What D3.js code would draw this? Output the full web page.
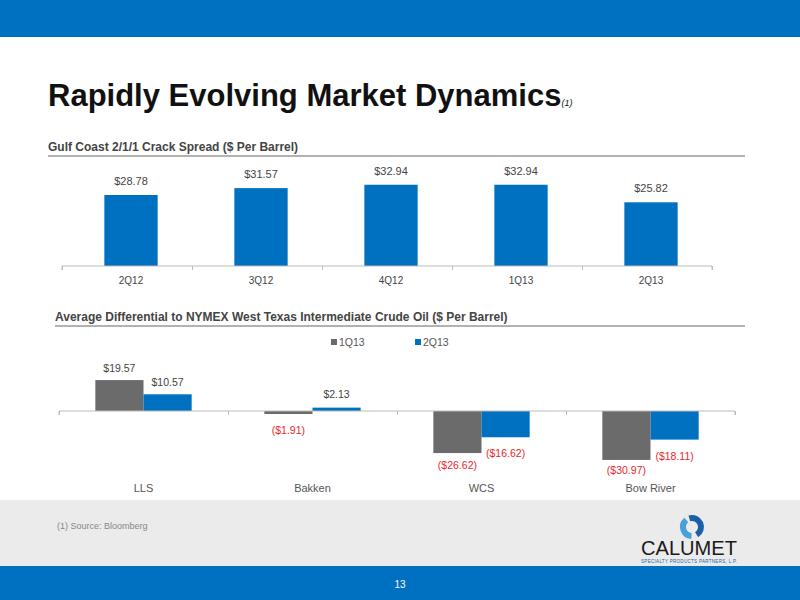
<!DOCTYPE html><html><head><meta charset="utf-8"><script src="https://cdn.jsdelivr.net/npm/d3@7"></script>
<style>body{margin:0}svg{font-family:"Liberation Sans",Arial,sans-serif}</style></head><body><svg id="c" width="800" height="600"></svg>
<script>
const crackCats=["2Q12","3Q12","4Q12","1Q13","2Q13"];
const crackVals=[28.78,31.57,32.94,32.94,25.82];
const diffCats=["LLS","Bakken","WCS","Bow River"];
const series=["1Q13","2Q13"];
const diff1Q13=[19.57,-1.91,-26.62,-30.97];
const diff2Q13=[10.57,2.13,-16.62,-18.11];
const BLUE="#0070c0",GRAY="#6b6b6b",RED="#e8262b";
const svg=d3.select("#c");
svg.append("rect").attr("width",800).attr("height",600).attr("fill","#fff");
svg.append("rect").attr("width",800).attr("height",37).attr("fill",BLUE);
svg.append("rect").attr("y",500).attr("width",800).attr("height",66).attr("fill","#ebebeb");
svg.append("rect").attr("y",566).attr("width",800).attr("height",34).attr("fill",BLUE);
svg.append("text").attr("x",400).attr("y",588).attr("text-anchor","middle").attr("fill","#fff").attr("font-size",10).text("13");
const t=svg.append("text").attr("x",48).attr("y",106).attr("font-size",31).attr("font-weight","bold").attr("fill","#111");
t.append("tspan").text("Rapidly Evolving Market Dynamics");
t.append("tspan").attr("font-size",9).attr("font-style","italic").attr("font-weight","normal").text("(1)");
function header(x,y,txt){svg.append("text").attr("x",x).attr("y",y).attr("font-size",12).attr("font-weight","bold").attr("fill","#444").text(txt);
svg.append("line").attr("x1",x).attr("x2",745).attr("y1",y+5).attr("y2",y+5).attr("stroke","#999").attr("stroke-width",1.5);}
header(48,151,"Gulf Coast 2/1/1 Crack Spread ($ Per Barrel)");
header(55,321,"Average Differential to NYMEX West Texas Intermediate Crude Oil ($ Per Barrel)");
const x1=d3.scaleBand().domain(crackCats).range([66,716]).paddingInner(0.59).paddingOuter(0.295);
const y1=d3.scaleLinear().domain([0,35]).range([266,266-35*2.467]);
const g1=svg.append("g");
g1.selectAll("rect").data(crackVals).join("rect").attr("x",(d,i)=>x1(crackCats[i])).attr("width",x1.bandwidth()).attr("y",d=>y1(d)).attr("height",d=>y1(0)-y1(d)).attr("fill",BLUE);
g1.selectAll(".l").data(crackVals).join("text").attr("x",(d,i)=>x1(crackCats[i])+x1.bandwidth()/2).attr("y",d=>y1(d)-10).attr("text-anchor","middle").attr("font-size",11).attr("fill","#444").text(d=>"$"+d.toFixed(2));
const ax1=svg.append("g").attr("transform","translate(0,266)").call(d3.axisBottom(d3.scaleLinear().domain([0,5]).range([62,712])).ticks(5).tickSize(4).tickFormat(""));
ax1.selectAll("line,path").attr("stroke","#bbb");
ax1.select("path").attr("d","M62,4V0H712V4");
crackCats.forEach(c=>svg.append("text").attr("x",x1(c)+x1.bandwidth()/2).attr("y",284).attr("text-anchor","middle").attr("font-size",10).attr("fill","#444").text(c));
const x2=d3.scaleBand().domain(diffCats).range([59,735]).paddingInner(0.43).paddingOuter(0.215);
const xs=d3.scaleBand().domain(series).range([0,x2.bandwidth()]);
const y2=d3.scaleLinear().domain([-35,25]).range([411+35*1.58,411-25*1.58]);
const data=diffCats.map((c,i)=>[{c,s:"1Q13",v:diff1Q13[i]},{c,s:"2Q13",v:diff2Q13[i]}]).flat();
const col={"1Q13":GRAY,"2Q13":BLUE};
svg.append("g").selectAll("rect").data(data).join("rect").attr("x",d=>x2(d.c)+xs(d.s)).attr("width",xs.bandwidth()).attr("y",d=>y2(Math.max(0,d.v))).attr("height",d=>Math.abs(y2(d.v)-y2(0))).attr("fill",d=>col[d.s]);
const ax2=svg.append("g").attr("transform","translate(0,411)").call(d3.axisBottom(d3.scaleLinear().domain([0,4]).range([59,735])).ticks(4).tickSize(4).tickFormat(""));
ax2.selectAll("line,path").attr("stroke","#bbb");ax2.select("path").attr("d","M59,4V0H735V4");
const fmt=v=>v<0?"($"+Math.abs(v).toFixed(2)+")":"$"+v.toFixed(2);
const offs={"LLS1Q13":-8,"LLS2Q13":-8,"Bakken1Q13":20,"Bakken2Q13":-10,"WCS1Q13":16,"WCS2Q13":20,"Bow River1Q13":14,"Bow River2Q13":20};
svg.append("g").selectAll("text").data(data).join("text").attr("x",d=>x2(d.c)+xs(d.s)+xs.bandwidth()/2).attr("y",d=>y2(d.v)+offs[d.c+d.s]).attr("text-anchor","middle").attr("font-size",10.5).attr("fill",d=>d.v<0?RED:"#444").text(d=>fmt(d.v));
diffCats.forEach(c=>svg.append("text").attr("x",x2(c)+x2.bandwidth()/2).attr("y",492).attr("text-anchor","middle").attr("font-size",11).attr("fill","#555").text(c));
series.forEach((s,i)=>{const lx=331+i*84;svg.append("rect").attr("x",lx).attr("y",339).attr("width",6).attr("height",6).attr("fill",col[s]);
svg.append("text").attr("x",lx+8).attr("y",346).attr("font-size",10.5).attr("fill","#555").text(s);});
svg.append("text").attr("x",57).attr("y",529).attr("font-size",9).attr("fill","#888").text("(1)  Source:  Bloomberg");
const lg=svg.append("g").attr("transform","translate(692,527)");
lg.append("path").attr("d",d3.arc()({innerRadius:6,outerRadius:12,startAngle:-0.3,endAngle:2.6})).attr("fill","#1a5fa8");
lg.append("path").attr("d",d3.arc()({innerRadius:6,outerRadius:12,startAngle:3.2,endAngle:5.6})).attr("fill","#4aa0d8");
svg.append("text").attr("x",689).attr("y",555).attr("text-anchor","middle").attr("font-size",20).attr("fill","#1a1a1a").attr("textLength",96).attr("lengthAdjust","spacingAndGlyphs").text("CALUMET");
svg.append("text").attr("x",689).attr("y",563).attr("text-anchor","middle").attr("font-size",4.5).attr("fill","#1a5fa8").attr("textLength",96).text("SPECIALTY PRODUCTS PARTNERS, L.P.");
</script></body></html>
